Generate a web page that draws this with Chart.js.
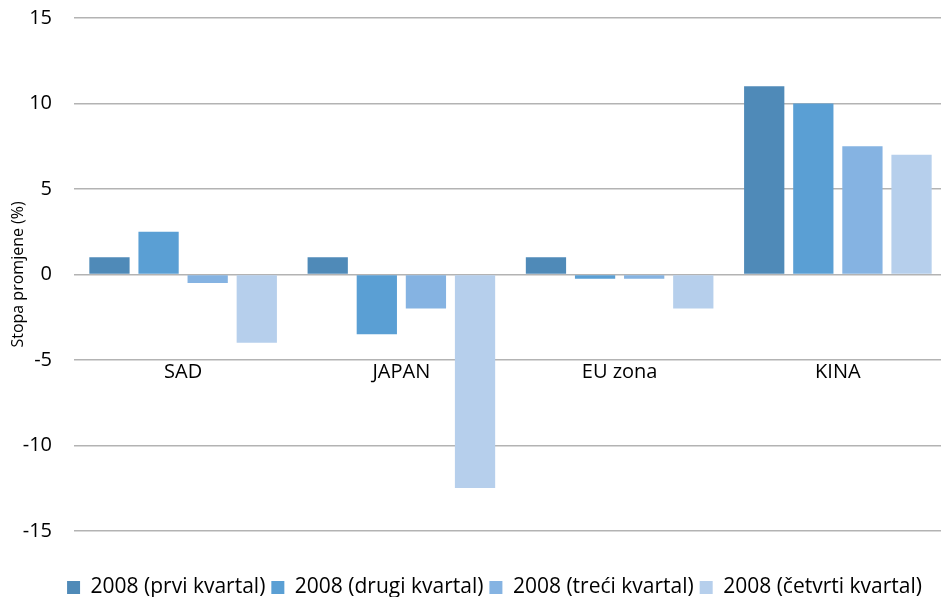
<!DOCTYPE html>
<html>
<head>
<meta charset="utf-8">
<script src="https://cdn.jsdelivr.net/npm/chart.js@4.4.1/dist/chart.umd.min.js"></script>
<style>
  html, body { margin: 0; padding: 0; background: #fff; overflow: hidden; }
  #wrap { width: 941px; height: 597px; overflow: hidden; }
</style>
</head>
<body>
<div id="wrap"><canvas id="chart" width="947" height="597"></canvas></div>
<script>
const categories = ["SAD", "JAPAN", "EU zona", "KINA"];
const seriesNames = ["2008 (prvi kvartal)", "2008 (drugi kvartal)", "2008 (treći kvartal)", "2008 (četvrti kvartal)"];
const q1 = [1, 1, 1, 11];
const q2 = [2.5, -3.5, -0.25, 10];
const q3 = [-0.5, -2, -0.25, 7.5];
const q4 = [-4, -12.5, -2, 7];
const colors = ["#4f8ab8", "#5a9fd4", "#85b3e2", "#b6cfec"];

const font = "'Open Sans', 'Liberation Sans', sans-serif";
const ctx = document.getElementById("chart").getContext("2d");

// legend in the original sits a bit right of centre
const shiftLegend = {
    id: "shiftLegend",
    afterLayout(chart) {
        chart.legend.left += 21;
        chart.legend.right += 21;
    }
};

new Chart(ctx, {
    type: "bar",
    data: {
        labels: categories,
        datasets: [q1, q2, q3, q4].map((vals, i) => ({
            label: seriesNames[i],
            data: vals,
            backgroundColor: colors[i],
            borderWidth: 0,
            categoryPercentage: 0.9,
            barPercentage: 0.82
        }))
    },
    options: {
        responsive: false,
        animation: false,
        layout: { padding: { top: 18, right: 0, left: 0, bottom: -11 } },
        plugins: {
            legend: {
                position: "bottom",
                title: { display: true, text: "", padding: { top: 39, bottom: 0 }, font: { size: 1 } },
                labels: {
                    boxWidth: 13,
                    boxHeight: 13,
                    padding: 6,
                    color: "#000",
                    font: { family: font, size: 21 }
                }
            },
            tooltip: { enabled: false }
        },
        scales: {
            x: {
                position: { y: -5 },
                grid: { display: false, drawTicks: false },
                border: { display: false },
                ticks: { color: "#000", padding: 0, font: { family: font, size: 20 } }
            },
            y: {
                min: -15,
                max: 15,
                afterFit: function (scale) {
                    scale.width = 74;
                    scale.paddingTop = 0;
                    scale.paddingBottom = 0;
                },
                ticks: { stepSize: 5, color: "#000", padding: 22, font: { family: font, size: 20 } },
                grid: { color: "#b3b3b3", lineWidth: 1.5, drawTicks: false },
                border: { display: false },
                title: {
                    display: true,
                    text: "Stopa promjene (%)",
                    color: "#000",
                    padding: { top: 9, bottom: 0 },
                    font: { family: font, size: 16 }
                }
            }
        }
    },
    plugins: [shiftLegend]
});
</script>
</body>
</html>
